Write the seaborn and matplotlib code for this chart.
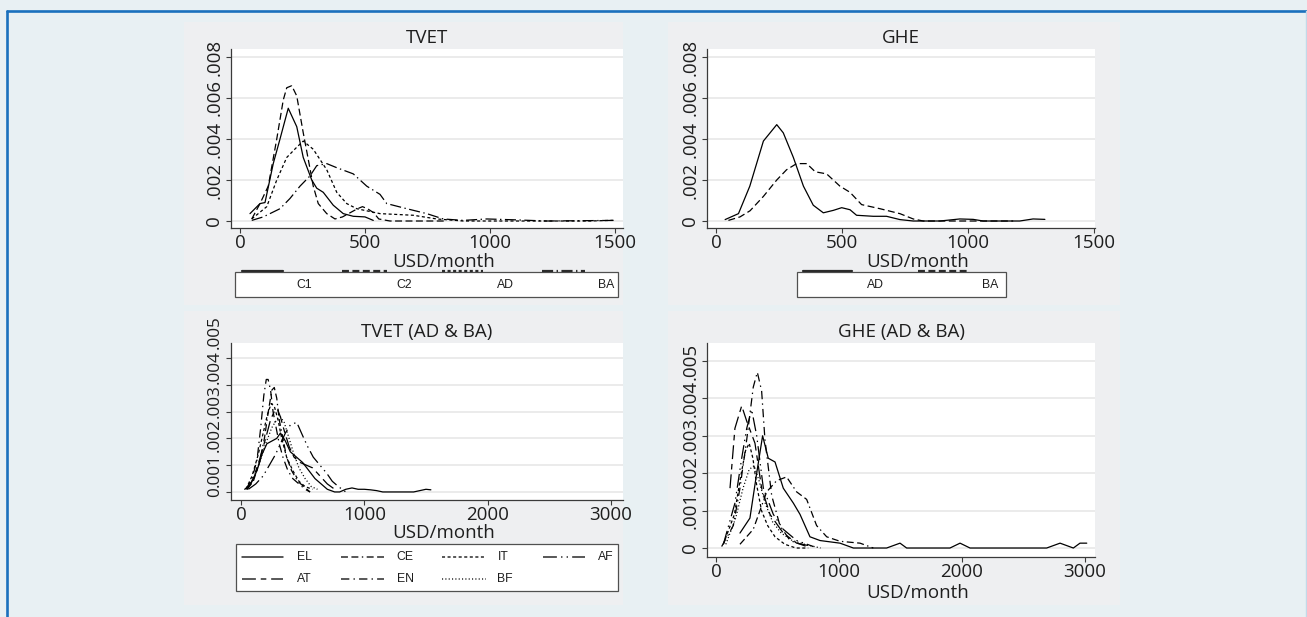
import matplotlib
matplotlib.use("Agg")
import matplotlib.pyplot as plt
from matplotlib.patches import Rectangle
from matplotlib.lines import Line2D
import seaborn as sns

# ---------------------------------------------------------------------------
# Kernel density estimates of monthly earnings (USD/month)
# ---------------------------------------------------------------------------

# TVET by cohort / qualification
tvet_c1_x = [40, 80, 100, 133, 160, 193, 227, 253, 287, 307, 333, 373, 413, 453, 500, 533]
tvet_c1_y = [.00036, .00085, .0009, .0028, .0040, .0055, .0046, .0031, .0020, .0016,
             .0014, .00077, .00036, .00023, .0002, .00003]

tvet_c2_x = [47, 80, 113, 147, 173, 187, 207, 227, 253, 267, 293, 313, 347, 380, 410,
             440, 470, 490, 510, 535, 555, 600, 680, 760, 820]
tvet_c2_y = [.0001, .00085, .0017, .0040, .0059, .0065, .0066, .0061, .0043, .0034,
             .0017, .00085, .00036, .0001, .0002, .0004, .0006, .0007, .0006, .0004,
             .0001, 0, 0, 0, 0]

tvet_ad_x = [47, 107, 147, 187, 227, 253, 293, 347, 387, 427, 467, 560, 693, 787, 893,
             1000, 1100, 1200, 1300, 1400, 1480, 1500]
tvet_ad_y = [.0001, .0007, .0020, .0031, .0036, .0039, .0035, .0025, .0014, .00085,
             .0006, .00036, .00028, .0001, 0, 0, 0, 0, 0, 0, .00003, .00003]

tvet_ba_x = [47, 93, 160, 200, 240, 280, 307, 347, 387, 453, 507, 560, 587, 667, 747,
             813, 893, 987, 1093, 1227, 1500]
tvet_ba_y = [.00003, .0002, .0006, .0011, .0017, .0022, .0027, .0028, .0026, .0023,
             .0017, .0013, .00085, .0006, .00036, .0001, .00003, .0001, .00006, 0, .00003]

# GHE by qualification
ghe_ad_x = [36, 89, 134, 188, 241, 267, 307, 347, 386, 426, 466, 499, 532, 558, 624,
            677, 730, 783, 889, 968, 1021, 1061, 1206, 1259, 1306]
ghe_ad_y = [.00007, .00036, .0017, .0039, .0047, .0043, .0031, .0017, .00077, .0004,
            .00052, .00065, .00055, .00028, .00023, .00023, .00007, 0, 0, .0001,
            .00008, 0, 0, .0001, .00008]

ghe_ba_x = [49, 95, 135, 188, 241, 280, 320, 360, 394, 439, 492, 532, 578, 651, 730,
            783, 823, 950, 1100, 1180]
ghe_ba_y = [.00003, .0002, .0005, .0012, .0020, .0025, .0028, .0028, .0024, .0023,
            .0017, .0014, .0008, .0006, .00036, .0001, 0, 0, 0, 0]

# TVET (AD & BA) by field of study
tvet_el_x = [30, 80, 130, 170, 210, 250, 290, 320, 360, 400, 450, 500, 550, 600, 650,
             700, 760, 800, 850, 900, 950, 1000, 1050, 1100, 1150, 1200, 1300, 1400,
             1450, 1500, 1540]
tvet_el_y = [.0001, .0003, .0008, .0014, .0018, .0019, .0020, .0022, .0019, .0015,
             .0013, .0011, .0008, .0005, .0003, .0001, 0, 0, .0001, .00015, .0001,
             .0001, .00008, .00005, 0, 0, 0, 0, .00005, .0001, .00008]
tvet_ce_x = [50, 100, 150, 190, 225, 250, 270, 290, 310, 340, 370, 410, 460, 510, 560]
tvet_ce_y = [.0001, .0004, .0011, .0020, .0031, .0038, .0039, .0035, .0027, .0020,
             .0013, .0008, .0004, .0002, 0]
tvet_it_x = [40, 90, 140, 180, 215, 245, 270, 300, 330, 370, 420, 470, 520, 580]
tvet_it_y = [.0001, .0006, .0014, .0022, .0029, .0033, .0032, .0027, .0020, .0013,
             .0008, .0004, .0002, .0001]
tvet_af_x = [60, 120, 180, 230, 280, 320, 360, 400, 452, 500, 540, 586, 640, 695, 740,
             790, 850]
tvet_af_y = [.0001, .0003, .0006, .0010, .0014, .0018, .0022, .0025, .0026, .0021,
             .0017, .0013, .0010, .0007, .0004, .0002, 0]
tvet_at_x = [50, 100, 150, 200, 240, 270, 295, 320, 350, 390, 430, 480, 530, 580, 640,
             700, 760]
tvet_at_y = [.0001, .0005, .0012, .0020, .0027, .0030, .0031, .0028, .0023, .0017,
             .0013, .0011, .0010, .0009, .0006, .0003, .0001]
tvet_en_x = [40, 90, 130, 160, 185, 205, 220, 240, 260, 285, 310, 340, 380, 420, 470,
             520, 560]
tvet_en_y = [.0001, .0005, .0012, .0024, .0036, .0042, .0042, .0038, .0030, .0024,
             .0018, .0013, .0008, .0005, .0003, .0001, 0]
tvet_bf_x = [50, 100, 150, 200, 250, 290, 320, 350, 390, 430, 470, 520, 570, 620]
tvet_bf_y = [.0001, .0005, .0011, .0018, .0024, .0027, .0028, .0026, .0020, .0014,
             .0009, .0005, .0002, .0001]

# GHE (AD & BA) by field of study
ghe_el_x = [195, 276, 331, 379, 425, 480, 547, 629, 683, 764, 846, 1008, 1117, 1279,
            1387, 1496, 1550, 1821, 1902, 1984, 2065, 2363, 2688, 2797, 2905, 2959, 3014]
ghe_el_y = [.0004, .0008, .0020, .0030, .0024, .0023, .0016, .0012, .0009, .0003,
            .0002, .00013, 0, 0, 0, .00013, 0, 0, 0, .00013, 0, 0, 0, .00013, 0,
            .00013, .00013]
ghe_ce_x = [195, 303, 412, 493, 574, 656, 737, 818, 900, 1008, 1171, 1279]
ghe_ce_y = [.0001, .0005, .0015, .0018, .0019, .0015, .0013, .0006, .0003, .00018,
            .00013, 0]
ghe_it_x = [60, 150, 200, 240, 270, 300, 330, 370, 420, 480, 560, 650, 750]
ghe_it_y = [.0001, .0009, .0019, .0026, .0028, .0024, .0017, .0010, .0006, .0003,
            .0001, 0, 0]
ghe_af_x = [60, 154, 209, 250, 290, 331, 385, 466, 547, 656, 791]
ghe_af_y = [.0001, .0012, .0024, .0032, .0037, .0030, .0016, .0009, .0005, .0002, .00004]
ghe_at_x = [114, 154, 209, 249, 317, 371, 439, 547, 656, 791]
ghe_at_y = [.0016, .0032, .0038, .0034, .0028, .0016, .0009, .0004, .00013, .00004]
ghe_en_x = [46, 141, 195, 250, 303, 336, 371, 398, 453, 520, 602, 737]
ghe_en_y = [.00004, .0006, .0016, .0029, .0043, .0047, .0042, .0029, .0014, .0006,
            .0002, .00004]
ghe_bf_x = [80, 160, 220, 270, 310, 350, 400, 460, 530, 620, 720, 850]
ghe_bf_y = [.0001, .0008, .0016, .0021, .0022, .0018, .0012, .0007, .0004, .0002,
            .0001, 0]

# Tick values and labels
top_yticks = [0, .002, .004, .006, .008]
top_ylabels = ["0", ".002", ".004", ".006", ".008"]
bot_yticks = [0, .001, .002, .003, .004, .005]
bot_ylabels = ["0", ".001", ".002", ".003", ".004", ".005"]
top_xticks = [0, 500, 1000, 1500]
bot_xticks = [0, 1000, 2000, 3000]

# ---------------------------------------------------------------------------
# Styling
# ---------------------------------------------------------------------------
sns.set_style("white")
plt.rcParams["font.family"] = ["Open Sans", "DejaVu Sans"]
plt.rcParams["lines.scale_dashes"] = False

LS = {
    "solid": "-",
    "dash": (0, (5, 2.5)),
    "shortdash": (0, (2.2, 1.8)),
    "longdash_dot": (0, (8, 2.5, 1, 2.5)),
    "dash_dash_dot": (0, (5, 2.5, 5, 2.5, 1, 2.5)),
    "longdash_dot_dot": (0, (10, 3, 1, 3, 1, 3)),
    "long_short": (0, (10, 3.5, 4, 3.5)),
    "dash_dot": (0, (6, 3, 1, 3)),
    "dot": (0, (0.8, 1.6)),
}

W, H = 1307, 617
BG = "#e8f0f3"
PANEL = "#eeeff1"
TXT = "#1e1e1e"
FS = 13.5


def fx(x):
    return x / W


def fy(y):
    return 1 - y / H


fig = plt.figure(figsize=(W / 100, H / 100), dpi=100)
fig.patch.set_facecolor(BG)

# Outer frame: blue rule on top and left, light rule on right
fig.add_artist(Line2D([fx(7), fx(W)], [fy(11), fy(11)], transform=fig.transFigure,
                      color="#1a70bd", lw=1.9))
fig.add_artist(Line2D([fx(7), fx(7)], [fy(11), 0], transform=fig.transFigure,
                      color="#1a70bd", lw=1.9))
fig.add_artist(Line2D([fx(1306), fx(1306)], [fy(11), 0], transform=fig.transFigure,
                      color="#c3d9e8", lw=1.0))

# Graph-region backgrounds
for (x0, y0, x1, y1) in [(184, 22, 623, 305), (668, 22, 1120, 305),
                         (184, 311, 623, 605), (668, 311, 1120, 605)]:
    fig.add_artist(Rectangle((fx(x0), fy(y1)), (x1 - x0) / W, (y1 - y0) / H,
                             transform=fig.transFigure, facecolor=PANEL,
                             edgecolor="none", zorder=0))


def make_axes(x0, y0, x1, y1, xlim, ylim, xticks, yticks, ylabels, title,
              xlabel_px):
    ax = fig.add_axes([fx(x0), fy(y1), (x1 - x0) / W, (y1 - y0) / H])
    ax.set_facecolor("white")
    ax.set_xlim(*xlim)
    ax.set_ylim(*ylim)
    for side in ("top", "right"):
        ax.spines[side].set_visible(False)
    for side in ("left", "bottom"):
        ax.spines[side].set_color("#3a3a3a")
        ax.spines[side].set_linewidth(0.9)
    ax.set_xticks(xticks)
    ax.set_xticklabels([str(t) for t in xticks], fontsize=FS, color=TXT)
    ax.set_yticks(yticks)
    if ylabels is not None:
        ax.set_yticklabels(ylabels, fontsize=FS, color=TXT, rotation=90, va="center")
    else:
        ax.set_yticklabels([])
    ax.tick_params(axis="both", direction="out", length=3.5, width=0.8,
                   color="#3a3a3a", left=True, bottom=True)
    ax.tick_params(axis="y", pad=2)
    ax.tick_params(axis="x", pad=1)
    for t in yticks:
        ax.axhline(t, color="#e8e8e8", lw=1.2, zorder=0)
    ax.set_title(title, fontsize=FS, color=TXT, pad=4)
    ax.set_xlabel("USD/month", fontsize=FS, color=TXT)
    lx, lb = xlabel_px
    ax.xaxis.set_label_coords((lx - x0) / (x1 - x0), (y1 - lb) / (y1 - y0))
    ax.xaxis.label.set_va("baseline")
    ax.set_ylabel("")
    return ax


def draw(ax, xs, ys, style):
    sns.lineplot(x=xs, y=ys, ax=ax, color="black", linewidth=0.9,
                 linestyle=LS[style], estimator=None, sort=False)


# Top-left: TVET
ax1 = make_axes(231, 49, 623, 228, (-36, 1532), (-0.000341, 0.00839),
                top_xticks, top_yticks, top_ylabels, "TVET", (444, 267))
draw(ax1, tvet_c1_x, tvet_c1_y, "solid")
draw(ax1, tvet_c2_x, tvet_c2_y, "dash")
draw(ax1, tvet_ad_x, tvet_ad_y, "shortdash")
draw(ax1, tvet_ba_x, tvet_ba_y, "longdash_dot")

# Top-right: GHE
ax2 = make_axes(707, 49, 1095, 228, (-36, 1505), (-0.000341, 0.00839),
                top_xticks, top_yticks, top_ylabels, "GHE", (918, 267))
draw(ax2, ghe_ad_x, ghe_ad_y, "solid")
draw(ax2, ghe_ba_x, ghe_ba_y, "dash")

# Bottom-left: TVET (AD & BA); its crowded y labels are stacked end to end below
ax3 = make_axes(231, 343, 623, 500, (-81, 3098), (-0.0003, 0.00556),
                bot_xticks, bot_yticks, None, "TVET (AD & BA)", (444, 537.5))
draw(ax3, tvet_el_x, tvet_el_y, "solid")
draw(ax3, tvet_ce_x, tvet_ce_y, "dash_dash_dot")
draw(ax3, tvet_it_x, tvet_it_y, "shortdash")
draw(ax3, tvet_af_x, tvet_af_y, "longdash_dot_dot")
draw(ax3, tvet_at_x, tvet_at_y, "long_short")
draw(ax3, tvet_en_x, tvet_en_y, "dash_dot")
draw(ax3, tvet_bf_x, tvet_bf_y, "dot")

# Bottom-right: GHE (AD & BA)
ax4 = make_axes(707, 343, 1095, 557, (-73, 3081), (-0.00024, 0.00548),
                bot_xticks, bot_yticks, bot_ylabels, "GHE (AD & BA)", (918, 598))
draw(ax4, ghe_el_x, ghe_el_y, "solid")
draw(ax4, ghe_ce_x, ghe_ce_y, "dash_dash_dot")
draw(ax4, ghe_it_x, ghe_it_y, "shortdash")
draw(ax4, ghe_af_x, ghe_af_y, "longdash_dot_dot")
draw(ax4, ghe_at_x, ghe_at_y, "long_short")
draw(ax4, ghe_en_x, ghe_en_y, "dash_dot")
draw(ax4, ghe_bf_x, ghe_bf_y, "dot")

# Stacked y labels for the bottom-left panel: the first sits on its tick,
# each following label continues directly above the previous one.
renderer = fig.canvas.get_renderer()
zero_px = ax3.transData.transform((0, bot_yticks[0]))[1]  # display y of tick 0
label_right = fx(223)
next_bottom = None
for val, lab in zip(bot_yticks, bot_ylabels):
    t = ax3.text(label_right, 0, lab, transform=fig.transFigure, rotation=90,
                 ha="right", va="center", fontsize=12.3, color=TXT)
    h = t.get_window_extent(renderer).height
    if next_bottom is None:
        centre = zero_px
    else:
        centre = next_bottom + h / 2
    t.set_y(centre / fig.bbox.height)
    next_bottom = centre + h / 2 + 0.5


# ---------------------------------------------------------------------------
# Legends
# ---------------------------------------------------------------------------
def legend_box(x0, y0, x1, y1):
    fig.add_artist(Rectangle((fx(x0), fy(y1)), (x1 - x0) / W, (y1 - y0) / H,
                             transform=fig.transFigure, facecolor="white",
                             edgecolor="#505050", lw=0.9, zorder=2))


def legend_entry(kx0, kx1, ky, style, label, lx, ly, lw=1.1):
    fig.add_artist(Line2D([fx(kx0), fx(kx1)], [fy(ky), fy(ky)],
                          transform=fig.transFigure, color="#2a2a2a", lw=lw,
                          linestyle=LS[style], zorder=3))
    fig.text(fx(lx), fy(ly), label, ha="center", va="center", fontsize=8.8,
             family=["Liberation Sans", "DejaVu Sans"], color=TXT, zorder=4)


legend_box(235, 272, 618, 297)
for (kx0, kx1, style, lab, lx) in [(242, 283, "solid", "C1", 304),
                                   (342, 387, "dash", "C2", 404),
                                   (442, 483, "shortdash", "AD", 505),
                                   (542, 585, "longdash_dot", "BA", 606)]:
    legend_entry(kx0, kx1, 270.5, style, lab, lx, 284.5, lw=1.6)

legend_box(797, 272, 1006, 297)
for (kx0, kx1, style, lab, lx) in [(803, 852, "solid", "AD", 875),
                                   (918, 968, "dash", "BA", 990)]:
    legend_entry(kx0, kx1, 270.5, style, lab, lx, 284.5, lw=1.6)

legend_box(236, 544, 618, 591)
rows = [
    [(242, 283, "solid", "EL", 304), (341, 384, "dash_dash_dot", "CE", 405),
     (442, 486, "shortdash", "IT", 503), (543, 585, "longdash_dot_dot", "AF", 606)],
    [(242, 283, "long_short", "AT", 304), (341, 384, "dash_dot", "EN", 405),
     (442, 486, "dot", "BF", 505)],
]
for ry, row in zip([557, 579], rows):
    for (kx0, kx1, style, lab, lx) in row:
        legend_entry(kx0, kx1, ry, style, lab, lx, ry)

fig.savefig("out.png", dpi=100, facecolor=fig.get_facecolor())
